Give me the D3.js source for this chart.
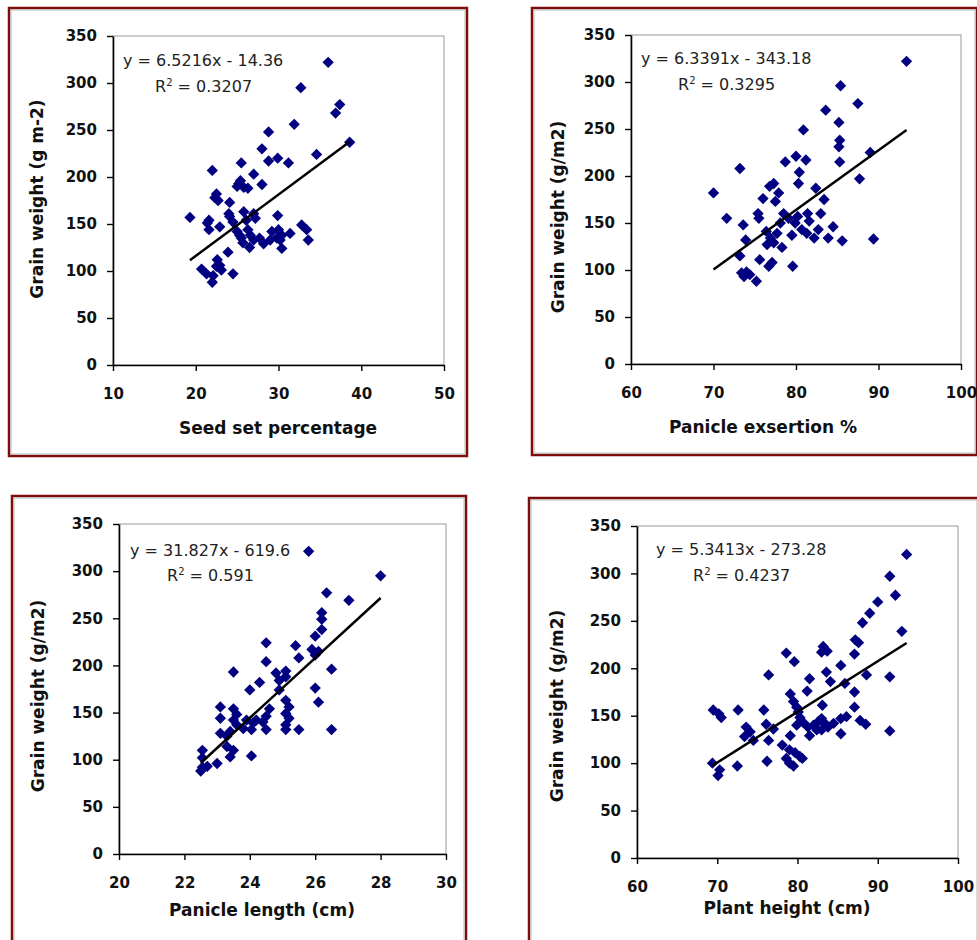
<!DOCTYPE html>
<html lang="en">
<head>
<meta charset="utf-8" />
<title>Grain weight correlations</title>
<script src="https://cdn.jsdelivr.net/npm/d3@7"></script>
<style>
  body { margin: 0; background: #fff; }
  .tick text { font-family: "DejaVu Sans", sans-serif; font-weight: bold; font-size: 15px; fill: #111; }
  .axis-title { font-family: "DejaVu Sans", sans-serif; font-weight: bold; font-size: 17px; fill: #111; }
  .eq { font-family: "DejaVu Sans", sans-serif; font-size: 16px; fill: #222; }
</style>
</head>
<body>
<script>
// ---- data: [x, grain weight] ----
const seedSetPts = [[36.0,322],[32.7,295],[37.4,277],[36.9,268],[31.9,256],[28.8,248],[38.6,237],[28.0,230],[34.6,224],[29.9,220],[28.8,217],[31.2,215],[25.5,215],[22.0,207],[27.0,203],[28.0,192],[25.4,196],[25.2,193],[25.0,190],[25.8,189],[26.3,188],[22.5,182],[22.3,178],[22.7,175],[24.1,173],[24.0,161],[24.1,158],[25.8,163],[27.0,161],[29.9,159],[19.3,157],[21.6,154],[21.4,151],[21.6,144],[22.9,147],[24.5,152],[26.1,154],[27.2,156],[25.0,142],[25.3,138],[25.5,135],[25.7,130],[26.3,144],[26.6,138],[27.0,133],[26.5,125],[27.7,135],[28.2,129],[29.2,142],[29.0,133],[30.0,144],[30.4,138],[30.2,133],[29.8,135],[30.4,124],[31.4,140],[32.8,149],[33.4,144],[33.6,133],[23.9,120],[20.7,102],[21.3,97],[22.0,88],[22.6,112],[22.9,106],[23.1,101],[22.5,105],[24.5,97],[22.1,95]];

const exsertionPts = [[93.4,322],[85.4,296],[87.5,277],[83.6,270],[85.2,257],[80.9,249],[85.3,238],[85.2,231],[89.0,225],[80.0,221],[78.7,215],[81.2,217],[85.3,215],[73.2,208],[80.4,204],[80.3,192],[87.7,197],[77.3,192],[76.8,189],[70.0,182],[77.9,182],[82.4,187],[76.0,176],[77.5,173],[83.4,175],[71.6,155],[75.4,160],[75.5,155],[73.6,148],[78.5,160],[79.1,155],[78.1,150],[80.2,157],[79.9,150],[81.4,160],[81.6,152],[83.0,160],[84.5,146],[73.9,132],[76.4,141],[76.9,134],[76.5,127],[77.3,129],[77.7,139],[78.3,124],[79.5,137],[80.7,143],[81.3,139],[82.2,134],[82.7,143],[83.9,134],[85.6,131],[89.4,133],[73.2,115],[75.6,111],[76.7,104],[77.1,108],[79.6,104],[73.4,97],[74.0,98],[73.7,93],[74.4,95],[75.2,88]];

const panicleLenPts = [[25.8,321],[28.0,295],[26.35,277],[27.03,269],[26.2,256],[26.2,249],[26.2,238],[26.0,231],[24.5,224],[25.4,221],[25.9,217],[26.1,215],[26.0,211],[25.5,208],[24.5,204],[26.5,196],[23.5,193],[24.8,192],[25.1,194],[25.1,188],[24.9,184],[24.3,182],[26.0,176],[24.0,174],[24.9,174],[26.1,161],[23.1,156],[23.1,144],[23.5,154],[23.6,148],[23.5,142],[23.6,137],[24.6,154],[24.5,146],[24.4,140],[25.1,163],[25.2,156],[25.1,149],[25.2,144],[25.1,137],[25.1,132],[25.5,132],[26.5,132],[23.9,142],[24.1,139],[24.2,142],[23.8,133],[24.05,132],[24.5,132],[23.1,128],[23.3,125],[23.4,130],[23.3,114],[23.5,110],[23.4,103],[24.05,104],[22.55,110],[22.55,102],[22.55,92],[22.7,93],[22.5,88],[23.0,96]];

const plantHeightPts = [[93.6,320],[91.5,297],[92.2,277],[90.0,270],[89.0,258],[88.1,248],[93.0,239],[87.2,230],[87.6,227],[83.2,223],[83.7,218],[83.0,217],[78.6,216],[79.6,207],[87.1,215],[85.4,203],[83.6,196],[76.4,193],[88.6,193],[91.5,191],[81.5,189],[84.1,186],[85.9,184],[81.2,176],[87.1,175],[79.1,173],[83.1,161],[79.5,165],[79.9,159],[87.1,159],[69.5,156],[70.2,152],[70.5,148],[72.6,156],[75.8,156],[80.1,154],[80.3,148],[76.1,141],[77.0,136],[76.4,124],[73.6,138],[74.1,133],[73.4,128],[74.5,124],[78.1,119],[79.1,129],[79.9,140],[80.7,143],[81.3,138],[82.0,140],[82.6,144],[83.0,147],[83.4,142],[83.8,138],[84.5,142],[82.4,135],[83.0,135],[81.5,129],[85.4,147],[86.1,149],[85.4,131],[87.8,145],[88.5,141],[91.5,134],[69.4,100],[70.3,93],[70.1,87],[72.5,97],[76.2,102],[78.6,105],[79.0,100],[79.5,97],[79.0,114],[79.7,111],[80.3,107],[80.6,105]];

// trend lines (slope, intercept) and labels as printed
const slopes = [6.5216, 6.3391, 31.827, 5.3413];
const intercepts = [-14.36, -343.18, -619.6, -273.28];
const eqLabels = ["y = 6.5216x - 14.36", "y = 6.3391x - 343.18", "y = 31.827x - 619.6", "y = 5.3413x - 273.28"];
const r2Labels = ["0.3207", "0.3295", "0.591", "0.4237"];

const xTitles = ["Seed set percentage", "Panicle exsertion %", "Panicle length (cm)", "Plant height (cm)"];
const yTitles = ["Grain weight (g m-2)", "Grain weight (g/m2)", "Grain weight (g/m2)", "Grain weight (g/m2)"];
const xDomains = [[10, 50], [60, 100], [20, 30], [60, 100]];
const xTickVals = [[10, 20, 30, 40, 50], [60, 70, 80, 90, 100], [20, 22, 24, 26, 28, 30], [60, 70, 80, 90, 100]];
const yTickVals = [0, 50, 100, 150, 200, 250, 300, 350];
const pointSets = [seedSetPts, exsertionPts, panicleLenPts, plantHeightPts];

// ---- layout (pixels) ----
const frames = [
  { x: 9, y: 8, w: 458, h: 448 },
  { x: 532, y: 8, w: 445, h: 447 },
  { x: 12, y: 496, w: 454, h: 450 },
  { x: 529, y: 498, w: 450, h: 450 }
];
const plots = [
  { l: 113, r: 444, t: 36, b: 365 },
  { l: 631, r: 961, t: 35, b: 364 },
  { l: 119, r: 446, t: 524, b: 854 },
  { l: 637, r: 958, t: 526, b: 858 }
];
// label positions: equation start/centre, R2 start/centre
const eqPos = [[123, 60, 155, 86], [641, 58, 678, 84], [130, 550, 167, 575], [656, 549, 693, 575]];
const xTitlePos = [[278, 428], [763, 427], [262, 910], [787, 908]];
const yTitlePos = [[37, 199], [558, 217], [38, 696], [557, 706]];

const svg = d3.select("body").append("svg")
  .attr("width", 977)
  .attr("height", 940);

pointSets.forEach((pts, i) => {
  const f = frames[i], p = plots[i];

  // chart frame
  svg.append("rect")
    .attr("x", f.x).attr("y", f.y)
    .attr("width", f.w).attr("height", f.h)
    .attr("fill", "#fff")
    .attr("stroke", "#7d0c0c")
    .attr("stroke-width", 2.5);
  svg.append("rect")
    .attr("x", f.x + 2).attr("y", f.y + 2)
    .attr("width", f.w - 4).attr("height", f.h - 4)
    .attr("fill", "none")
    .attr("stroke", "#b8b8b8")
    .attr("stroke-width", 1);

  const x = d3.scaleLinear().domain(xDomains[i]).range([p.l, p.r]);
  const y = d3.scaleLinear().domain([0, 350]).range([p.b, p.t]);

  // plot area border (grey top/right)
  svg.append("rect")
    .attr("x", p.l).attr("y", p.t)
    .attr("width", p.r - p.l).attr("height", p.b - p.t)
    .attr("fill", "#fff")
    .attr("stroke", "#9a9a9a")
    .attr("stroke-width", 1);

  const gx = svg.append("g")
    .attr("transform", `translate(0,${p.b})`)
    .call(d3.axisBottom(x).tickValues(xTickVals[i]).tickSize(6).tickPadding(17).tickSizeOuter(0));
  const gy = svg.append("g")
    .attr("transform", `translate(${p.l},0)`)
    .call(d3.axisLeft(y).tickValues(yTickVals).tickSize(6).tickPadding(10).tickSizeOuter(0));
  [gx, gy].forEach(g => {
    g.select(".domain").attr("stroke", "#000").attr("stroke-width", 1.6);
    g.selectAll(".tick line").attr("stroke", "#000").attr("stroke-width", 1.4);
  });

  // diamonds
  svg.append("g")
    .selectAll("path")
    .data(pts)
    .join("path")
    .attr("d", d3.symbol(d3.symbolSquare, 64))
    .attr("transform", d => `translate(${x(d[0])},${y(d[1])}) rotate(45)`)
    .attr("fill", "#000080");

  // linear trend line over data range
  const ext = d3.extent(pts, d => d[0]);
  svg.append("line")
    .attr("x1", x(ext[0])).attr("y1", y(slopes[i] * ext[0] + intercepts[i]))
    .attr("x2", x(ext[1])).attr("y2", y(slopes[i] * ext[1] + intercepts[i]))
    .attr("stroke", "#000")
    .attr("stroke-width", 2.5);

  // equation and R2
  const ep = eqPos[i];
  svg.append("text").attr("class", "eq")
    .attr("x", ep[0]).attr("y", ep[1]).attr("dy", "0.36em")
    .text(eqLabels[i]);
  const r2 = svg.append("text").attr("class", "eq")
    .attr("x", ep[2]).attr("y", ep[3]).attr("dy", "0.36em");
  r2.append("tspan").text("R");
  r2.append("tspan").attr("font-size", "10px").attr("dy", "-0.6em").text("2");
  r2.append("tspan").attr("dy", "0.38em").text(" = " + r2Labels[i]);

  // axis titles
  svg.append("text").attr("class", "axis-title")
    .attr("x", xTitlePos[i][0]).attr("y", xTitlePos[i][1]).attr("dy", "0.36em")
    .attr("text-anchor", "middle")
    .text(xTitles[i]);
  svg.append("text").attr("class", "axis-title")
    .attr("transform", `translate(${yTitlePos[i][0]},${yTitlePos[i][1]}) rotate(-90)`)
    .attr("dy", "0.36em")
    .attr("text-anchor", "middle")
    .text(yTitles[i]);
});
</script>
</body>
</html>
